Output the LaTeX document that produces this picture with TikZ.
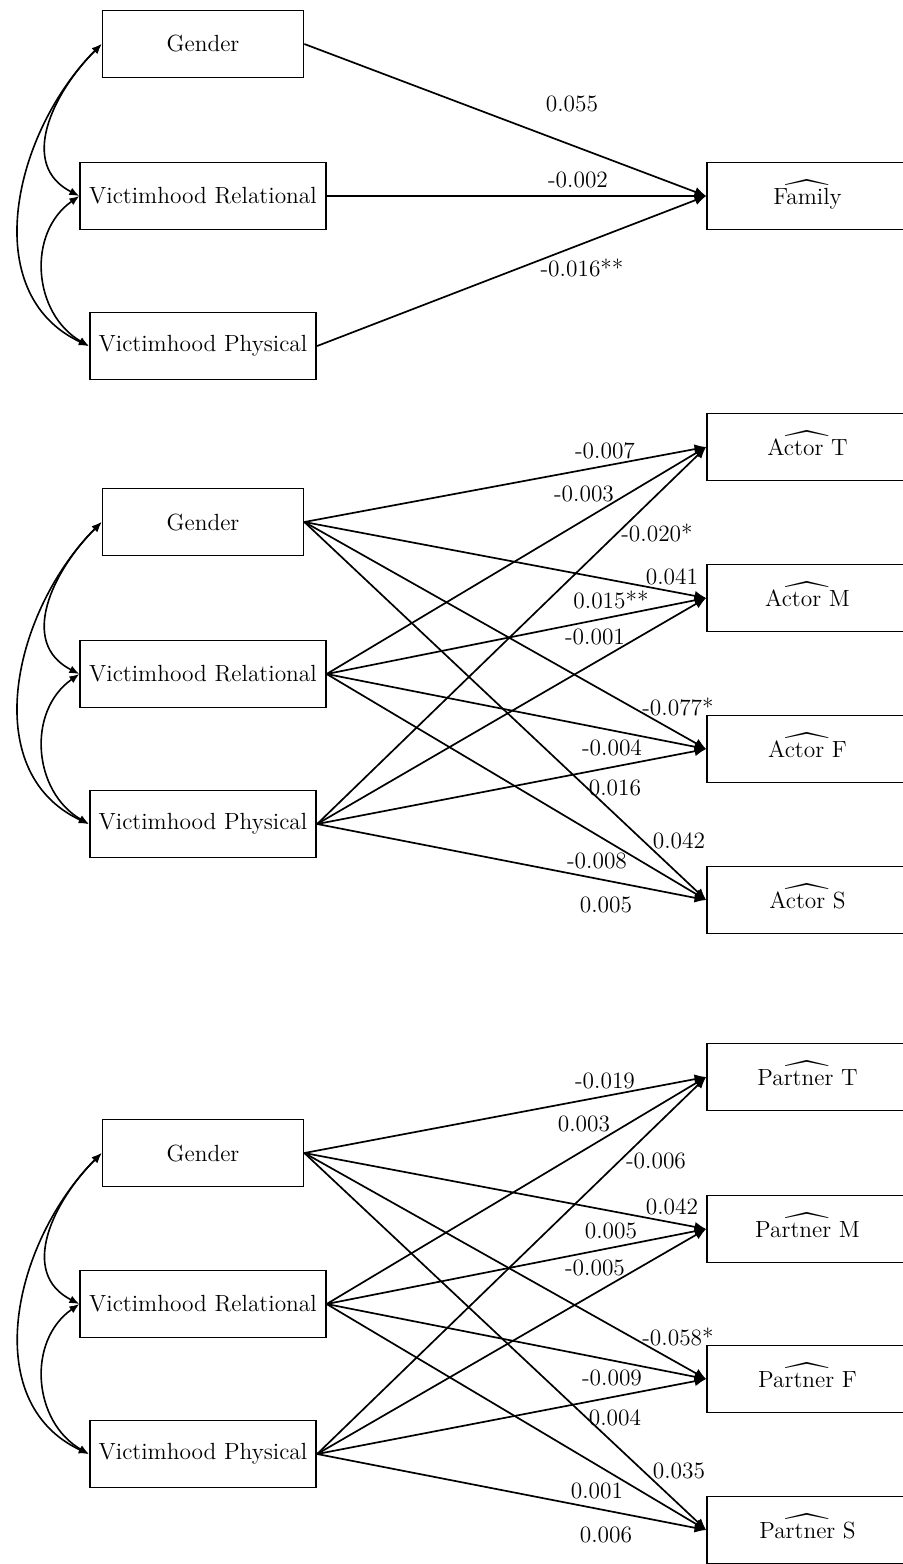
\documentclass[tikz,border=0pt]{standalone}
\usepackage{amsmath}
\usepackage{graphicx}
\usetikzlibrary{arrows.meta}
\newcommand{\hw}[1]{\raisebox{0pt}[11.8pt]{\ooalign{#1\cr\hidewidth\raisebox{-3.6pt}{\scalebox{1.25}[1.3]{$\widehat{\vphantom{T}\hphantom{MMM}}$}}\hidewidth\cr}}}
\begin{document}
\begin{tikzpicture}[x=0.5pt,y=0.5pt,
  every node/.style={font=\fontsize{11.7}{14}\selectfont},
  box/.style={draw, line width=0.85pt, minimum width=100.5pt, minimum height=33.5pt, inner xsep=4.5pt, inner ysep=2pt},
  reg/.style={-{Latex[length=5.8pt,width=5pt]}, line width=0.85pt},
  cov/.style={{Latex[length=5pt,width=4pt]}-{Latex[length=5pt,width=4pt]}, line width=0.8pt},
  covgr/.style={cov, out=225, in=153, looseness=1.15},
  covrp/.style={cov, out=215, in=150, looseness=1.1},
  covgp/.style={cov, out=225, in=155, looseness=1.05},
  lab/.style={inner sep=0pt}]
\useasboundingbox (0,0) rectangle (902,-1564);

% ---------- top section ----------
\node[box] (g1) at (203,-44) {Gender};
\node[box] (r1) at (203,-196) {Victimhood Relational};
\node[box] (p1) at (203,-346) {Victimhood Physical};
\node[box] (fam) at (807.5,-196) {\hw{Family}};
\draw[reg] (g1.east) -- (fam.west);
\draw[reg] (r1.east) -- (fam.west);
\draw[reg] (p1.east) -- (fam.west);
\draw[covgr] (g1.west) to (r1.west);
\draw[covrp] (r1.west) to (p1.west);
\draw[covgp] (g1.west) to (p1.west);
\node[lab] (l1a) at (572,-104) {0.055};
\node[lab] (l1b) at (578,-180) {-0.002};
\node[lab] (l1c) at (582,-268) {-0.016**};

% ---------- middle section ----------
\node[box] (g2) at (203,-522) {Gender};
\node[box] (r2) at (203,-674) {Victimhood Relational};
\node[box] (p2) at (203,-824) {Victimhood Physical};
\node[box] (at) at (807.5,-447) {\hw{Actor T}};
\node[box] (am) at (807.5,-598) {\hw{Actor M}};
\node[box] (af) at (807.5,-749) {\hw{Actor F}};
\node[box] (as) at (807.5,-900) {\hw{Actor S}};
\foreach \s in {g2,r2,p2}{
  \foreach \t in {at,am,af,as}{
    \draw[reg] (\s.east) -- (\t.west);
  }
}
\draw[covgr] (g2.west) to (r2.west);
\draw[covrp] (r2.west) to (p2.west);
\draw[covgp] (g2.west) to (p2.west);
\node[lab] (l2a) at (605,-451) {-0.007};
\node[lab] (l2b) at (584,-494) {-0.003};
\node[lab] (l2c) at (657,-533) {-0.020*};
\node[lab] (l2d) at (672,-577) {0.041};
\node[lab] (l2e) at (611,-600) {0.015**};
\node[lab] (l2f) at (595,-637) {-0.001};
\node[lab] (l2g) at (678,-707) {-0.077*};
\node[lab] (l2h) at (612,-748) {-0.004};
\node[lab] (l2i) at (615,-788) {0.016};
\node[lab] (l2j) at (679,-841) {0.042};
\node[lab] (l2k) at (597,-861) {-0.008};
\node[lab] (l2l) at (606,-905) {0.005};

% ---------- bottom section ----------
\node[box] (g3) at (203,-1153) {Gender};
\node[box] (r3) at (203,-1304) {Victimhood Relational};
\node[box] (p3) at (203,-1454) {Victimhood Physical};
\node[box] (pt) at (807.5,-1077) {\hw{Partner T}};
\node[box] (pm) at (807.5,-1229) {\hw{Partner M}};
\node[box] (pf) at (807.5,-1379) {\hw{Partner F}};
\node[box] (ps) at (807.5,-1530) {\hw{Partner S}};
\foreach \s in {g3,r3,p3}{
  \foreach \t in {pt,pm,pf,ps}{
    \draw[reg] (\s.east) -- (\t.west);
  }
}
\draw[covgr] (g3.west) to (r3.west);
\draw[covrp] (r3.west) to (p3.west);
\draw[covgp] (g3.west) to (p3.west);
\node[lab] (l3a) at (605,-1081) {-0.019};
\node[lab] (l3b) at (584,-1124) {0.003};
\node[lab] (l3c) at (656,-1161) {-0.006};
\node[lab] (l3d) at (672,-1207) {0.042};
\node[lab] (l3e) at (611,-1231) {0.005};
\node[lab] (l3f) at (595,-1268) {-0.005};
\node[lab] (l3g) at (678,-1337) {-0.058*};
\node[lab] (l3h) at (612,-1378) {-0.009};
\node[lab] (l3i) at (615,-1418) {0.004};
\node[lab] (l3j) at (679,-1471) {0.035};
\node[lab] (l3k) at (597,-1491) {0.001};
\node[lab] (l3l) at (606,-1535) {0.006};
\end{tikzpicture}
\end{document}
